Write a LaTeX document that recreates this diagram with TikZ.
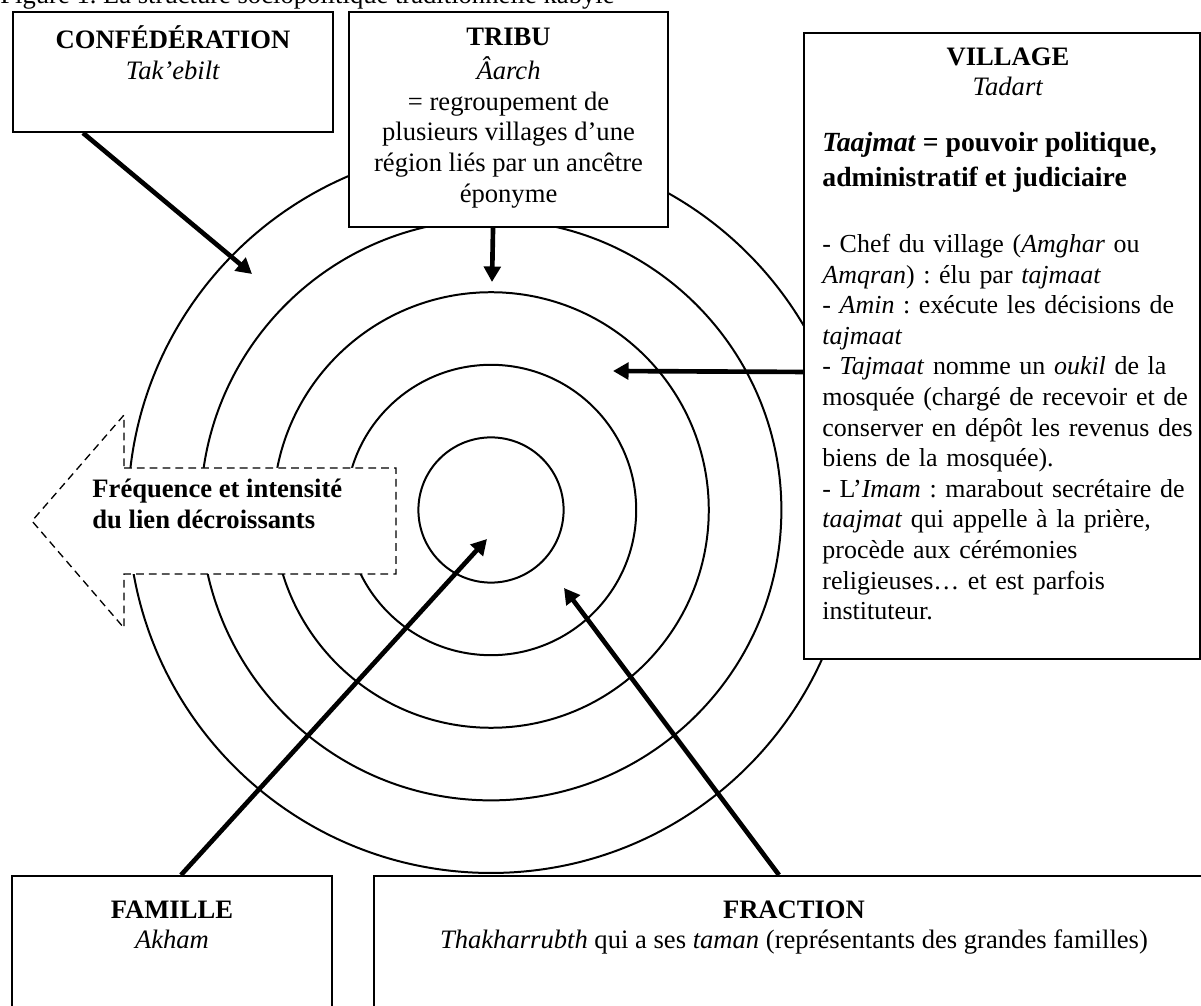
\documentclass[tikz,border=0pt]{standalone}
\usepackage{fontspec}
\setmainfont{Liberation Serif}
\usetikzlibrary{arrows.meta, positioning, calc}
\frenchspacing

\begin{document}
\begin{tikzpicture}[
    x=0.451pt, y=-0.451pt,
    font=\fontsize{12}{13.8}\selectfont,
    box/.style={rectangle, draw, line width=0.9pt, fill=white, anchor=north west, inner sep=0pt},
    txt/.style={inner sep=0pt, align=center, anchor=north},
    ring/.style={draw, line width=0.9pt},
    arrow/.style={-{Triangle[length=7pt, width=7.5pt]}, line width=2.1pt}
]
\useasboundingbox (0,0) rectangle (1201,1006);
\clip (0,0) rectangle (1201,1006);

% Title (cut at the top)
\node[anchor=base west, inner sep=0pt] (title) at (0,4) {Figure 1. La structure sociopolitique traditionnelle kabyle};

% Rings
\coordinate (ctr) at (491,510);
\foreach \r in {1,...,5}
    \draw[ring] (ctr) circle[radius=\r*32.74pt];

% Decreasing link
\draw[dashed, dash pattern=on 3.5pt off 2.3pt, line width=0.6pt, fill=white]
    (124,468) -- (396,468) -- (396,574) -- (124,574) -- (124,628) -- (32,521) -- (124,415) -- cycle;
\node[txt, anchor=north west, align=left, font=\fontsize{12}{13.8}\selectfont\bfseries] (freq) at (92,475.6)
    {\strut Fréquence et intensité\\du lien décroissants};

% Confederation
\node[box, minimum width=144.3pt, minimum height=54.1pt] (conf) at (12,11) {};
\node[txt, below=6.45pt of conf.north] (conftxt) {\strut\textbf{CONFÉDÉRATION}\\\textit{Tak’ebilt}};

% Tribe
\node[box, minimum width=143.9pt, minimum height=97pt] (tribu) at (348,11) {};
\node[txt, below=5.7pt of tribu.north] (tributxt)
    {\strut\textbf{TRIBU}\\\textit{Âarch}\\= regroupement de\\plusieurs villages d’une\\région liés par un ancêtre\\éponyme};

% Village
\node[box, minimum width=178.6pt, minimum height=282.3pt] (village) at (803,32) {};
\node[txt, below=5.2pt of village.north, xshift=2.7pt] (villtitle) {\strut\textbf{VILLAGE}\\\textit{Tadart}};
\node[txt, anchor=north west, align=left, font=\fontsize{12.5}{15.8}\selectfont\bfseries] (villpow)
    at ($(village.north west)+(19,95)$)
    {\strut\textit{Taajmat} = pouvoir politique,\\administratif et judiciaire};
\node[txt, anchor=north west, align=left, text width=172pt, font=\fontsize{11.7}{13.8}\selectfont] (villtxt)
    at ($(village.north west)+(19,198.6)$)
    {\strut - Chef du village (\textit{Amghar} ou\\
    \textit{Amqran}) : élu par \textit{tajmaat}\\
    - \textit{Amin} : exécute les décisions de\\
    \textit{tajmaat}\\
    - \textit{Tajmaat} nomme un \textit{oukil} de la\\
    mosquée (chargé de recevoir et de\\
    conserver en dépôt les revenus des\\
    biens de la mosquée).\\
    - L’\textit{Imam} : marabout secrétaire de\\
    \textit{taajmat} qui appelle à la prière,\\
    procède aux cérémonies\\
    religieuses… et est parfois\\
    instituteur.};

% Family
\node[box, minimum width=144.3pt, minimum height=72.2pt] (famille) at (11,875) {};
\node[txt, below=9.7pt of famille.north] (famtxt) {\strut\textbf{FAMILLE}\\\textit{Akham}};

% Fraction
\node[box, minimum width=378.8pt, minimum height=72.2pt] (fraction) at (373,875) {};
\node[txt, below=9.7pt of fraction.north] (fractxt)
    {\strut\textbf{FRACTION}\\\textit{Thakharrubth} qui a ses \textit{taman} (représentants des grandes familles)};

% Arrow ends
\coordinate (confend) at (252,274);
\coordinate (tribuend) at (492,282);
\coordinate (villend) at (613,371);
\coordinate (famend) at (487,539);
\coordinate (fracend) at (564,588);

% Arrows
\draw[arrow] ($(conf.south west)+(71,0)$) -- (confend);
\draw[arrow] ($(tribu.south)+(-15.5,0)$) -- (tribuend);
\draw[arrow] ($(village.west)+(0,26)$) -- (villend);
\draw[arrow] ($(famille.north west)+(170,0)$) -- (famend);
\draw[arrow] ($(fraction.north west)+(406,0)$) -- (fracend);

\end{tikzpicture}
\end{document}
